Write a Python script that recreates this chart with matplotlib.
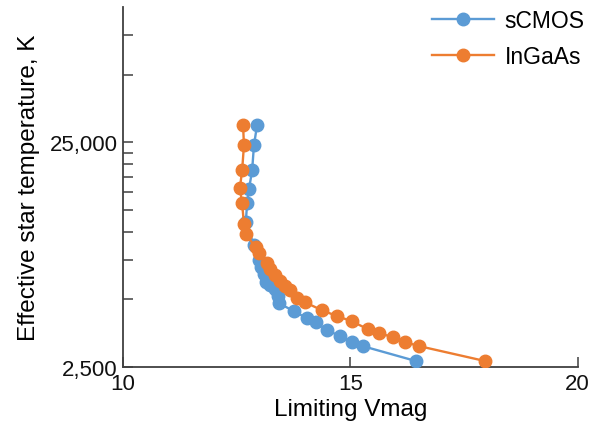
import matplotlib
matplotlib.use("Agg")
import matplotlib.pyplot as plt
from matplotlib.ticker import FixedLocator, NullFormatter, FuncFormatter

plt.rcParams['font.family'] = ['Liberation Sans', 'DejaVu Sans']

# Data
scmos_vmag = [12.95, 12.88, 12.84, 12.77, 12.73, 12.70, 12.88, 12.99, 13.03, 13.10,
              13.14, 13.23, 13.34, 13.41, 13.43, 13.76, 14.04, 14.24, 14.48, 14.77,
              15.03, 15.27, 16.44]
scmos_temp = [30000, 24250, 18770, 15450, 13390, 11020, 8710, 7470, 6950, 6470,
              5970, 5780, 5550, 5170, 4810, 4430, 4130, 3960, 3650, 3440,
              3230, 3100, 2660]

ingaas_vmag = [12.64, 12.66, 12.62, 12.57, 12.62, 12.66, 12.70, 12.92, 12.99, 13.16,
               13.23, 13.34, 13.45, 13.56, 13.67, 13.82, 14.00, 14.37, 14.70, 15.03,
               15.38, 15.63, 15.93, 16.20, 16.51, 17.96]
ingaas_temp = [30000, 24250, 18770, 15620, 13390, 10800, 9750, 8530, 8030, 7250,
               6820, 6410, 6030, 5730, 5490, 5070, 4860, 4480, 4220, 4000,
               3690, 3540, 3400, 3230, 3100, 2660]

x_ticks = [10, 15, 20]
y_major = [2500, 25000]
y_minor = [2500 * k for k in range(2, 10)] + [25000 * k for k in range(2, 4)]

fig = plt.figure(figsize=(6.03, 4.27), dpi=100)
ax = fig.add_axes([0.204, 0.138, 0.754, 0.843])

blue = '#5B9BD5'
orange = '#ED7D31'
ax.plot(scmos_vmag, scmos_temp, '-o', color=blue, lw=1.7, ms=9, label='sCMOS', zorder=3)
ax.plot(ingaas_vmag, ingaas_temp, '-o', color=orange, lw=1.7, ms=9, label='InGaAs', zorder=4)

ax.set_yscale('log')
ax.set_ylim(2500, 100000)
ax.set_xlim(10, 20)
ax.xaxis.set_major_locator(FixedLocator(x_ticks))
ax.yaxis.set_major_locator(FixedLocator(y_major))
ax.yaxis.set_minor_locator(FixedLocator(y_minor))
ax.yaxis.set_major_formatter(FuncFormatter(lambda v, p: f"{int(round(v)):,}"))
ax.yaxis.set_minor_formatter(NullFormatter())

for s in ['top', 'right']:
    ax.spines[s].set_visible(False)
for s in ['left', 'bottom']:
    ax.spines[s].set_color('#404040')
    ax.spines[s].set_linewidth(1.3)

ax.tick_params(axis='both', which='both', direction='in', length=7, width=1.1,
               color='#404040', labelsize=16, labelcolor='#111111')
ax.tick_params(axis='y', pad=4)
ax.tick_params(axis='x', pad=4)

ax.set_xlabel('Limiting Vmag', fontsize=17.5, labelpad=3)
ax.set_ylabel('Effective star temperature, K', fontsize=17.5, labelpad=7)

leg = ax.legend(loc='upper right', frameon=False, fontsize=16.5, handlelength=2.7,
                handletextpad=0.45, borderaxespad=0.0, labelspacing=0.55,
                bbox_to_anchor=(1.035, 1.02))

fig.savefig('out.png', dpi=100)
